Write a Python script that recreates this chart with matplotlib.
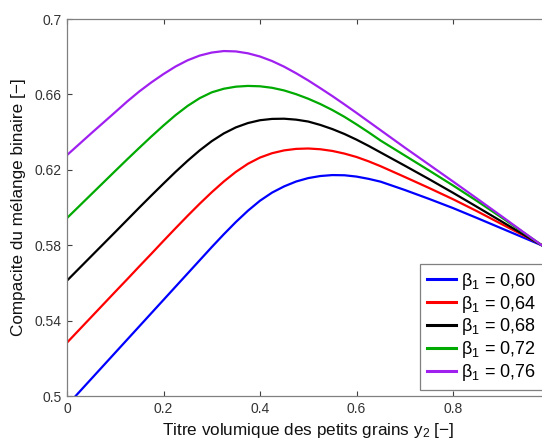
import matplotlib
matplotlib.use("Agg")
import matplotlib.pyplot as plt

plt.rcParams["font.family"] = ["Liberation Sans", "DejaVu Sans"]
plt.rcParams["mathtext.fontset"] = "custom"
plt.rcParams["mathtext.rm"] = "Liberation Sans"
plt.rcParams["mathtext.it"] = "Liberation Sans:italic"

# Volume fraction of small grains
y2 = [0.000, 0.050, 0.100, 0.125, 0.150, 0.175, 0.200, 0.225, 0.250, 0.275, 0.300, 0.325,
      0.350, 0.375, 0.400, 0.425, 0.450, 0.475, 0.500, 0.525, 0.550, 0.575, 0.600,
      0.625, 0.650, 0.700, 0.750, 0.800, 0.850, 0.900, 0.950, 1.000]

# Packing density of the binary mixture for each beta_1
c_060 = [0.4950, 0.5090, 0.5230, 0.5300, 0.5370, 0.5440, 0.5510, 0.5580, 0.5650, 0.5720, 0.5790, 0.5858,
         0.5923, 0.5983, 0.6036, 0.6079, 0.6112, 0.6138, 0.6156, 0.6167, 0.6172, 0.6171, 0.6164,
         0.6152, 0.6137, 0.6093, 0.6046, 0.5997, 0.5944, 0.5890, 0.5836, 0.5782]
c_064 = [0.5283, 0.5418, 0.5553, 0.5620, 0.5688, 0.5755, 0.5823, 0.5890, 0.5956, 0.6020, 0.6081, 0.6138,
         0.6189, 0.6232, 0.6265, 0.6288, 0.6303, 0.6311, 0.6313, 0.6309, 0.6300, 0.6286, 0.6268,
         0.6245, 0.6219, 0.6162, 0.6104, 0.6044, 0.5980, 0.5913, 0.5847, 0.5780]
c_068 = [0.5612, 0.5741, 0.5870, 0.5935, 0.6000, 0.6064, 0.6127, 0.6189, 0.6248, 0.6303, 0.6352, 0.6393,
         0.6425, 0.6448, 0.6463, 0.6470, 0.6471, 0.6466, 0.6456, 0.6438, 0.6416, 0.6390, 0.6360,
         0.6327, 0.6292, 0.6222, 0.6151, 0.6078, 0.6003, 0.5927, 0.5851, 0.5775]
c_072 = [0.5944, 0.6069, 0.6194, 0.6256, 0.6317, 0.6377, 0.6435, 0.6490, 0.6539, 0.6580, 0.6611, 0.6630,
         0.6641, 0.6645, 0.6643, 0.6635, 0.6621, 0.6601, 0.6577, 0.6549, 0.6517, 0.6481, 0.6441,
         0.6399, 0.6355, 0.6276, 0.6197, 0.6117, 0.6034, 0.5948, 0.5860, 0.5772]
c_076 = [0.6278, 0.6393, 0.6506, 0.6563, 0.6616, 0.6664, 0.6708, 0.6748, 0.6781, 0.6806, 0.6822, 0.6830,
         0.6828, 0.6818, 0.6801, 0.6777, 0.6747, 0.6712, 0.6674, 0.6633, 0.6591, 0.6547, 0.6502,
         0.6456, 0.6410, 0.6318, 0.6228, 0.6138, 0.6047, 0.5955, 0.5862, 0.5770]

series = [c_060, c_064, c_068, c_072, c_076]
labels = [r"β$_1$ = 0,60", r"β$_1$ = 0,64", r"β$_1$ = 0,68", r"β$_1$ = 0,72", r"β$_1$ = 0,76"]
colors = ["#0000ff", "#ff0000", "#000000", "#00aa00", "#a020f0"]

x_ticks = [0, 0.2, 0.4, 0.6, 0.8]
x_ticklabels = ["0", "0.2", "0.4", "0.6", "0.8"]
y_ticks = [0.5, 0.54, 0.58, 0.62, 0.66, 0.7]
y_ticklabels = ["0.5", "0.54", "0.58", "0.62", "0.66", "0.7"]

fig = plt.figure(figsize=(5.42, 4.41), dpi=100)
# the x axis runs to 1, just past the right edge of the canvas
ax = fig.add_axes([67 / 542, 45 / 441, 482.5 / 542, 377 / 441])

for vals, lab, col in zip(series, labels, colors):
    ax.plot(y2, vals, color=col, lw=1.6, label=lab, solid_joinstyle="round")

ax.set_xlim(0, 1)
ax.set_ylim(0.5, 0.7)
ax.set_xticks(x_ticks)
ax.set_xticklabels(x_ticklabels)
ax.set_yticks(y_ticks)
ax.set_yticklabels(y_ticklabels)

for sp in ax.spines.values():
    sp.set_color("#808080")
    sp.set_linewidth(0.9)
ax.tick_params(direction="in", top=True, right=True, length=3.5, width=0.8,
               color="#404040", labelsize=10, labelcolor="#333333", pad=4)

ax.set_xlabel("Titre volumique des petits grains y$_2$ [−]", fontsize=12.3,
              color="#111111", labelpad=4)
ax.set_ylabel("Compacite du mélange binaire [−]", fontsize=12.3,
              color="#111111", labelpad=6)

leg = ax.legend(loc="lower right", fontsize=13, frameon=True, fancybox=False,
                edgecolor="#606060", handlelength=1.6, handletextpad=0.3,
                labelspacing=0.1, borderpad=0.4, borderaxespad=0.32)
leg.get_frame().set_linewidth(0.9)
for line in leg.get_lines():
    line.set_linewidth(2.2)

fig.savefig("out.png", dpi=100)
